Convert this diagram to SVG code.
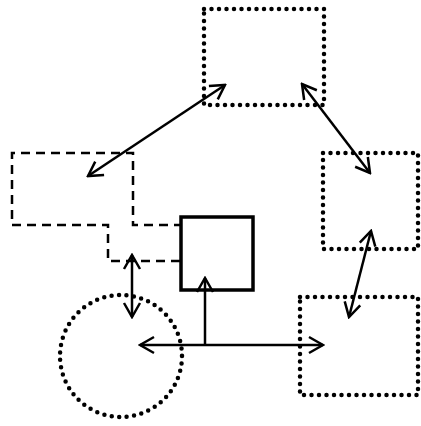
<svg xmlns="http://www.w3.org/2000/svg" width="421" height="426" viewBox="0 0 421 426">
<style>
.dot{fill:none;stroke:#000;stroke-width:4.5;stroke-linecap:round;stroke-dasharray:0 7.5}
.dash{fill:none;stroke:#000;stroke-width:2.5;stroke-dasharray:9 6}
.solid{fill:none;stroke:#000;stroke-width:3.5}
.con{fill:none;stroke:#000;stroke-width:2.5;marker-end:url(#ah)}
.dbl{marker-start:url(#ah)}
</style>
<defs>
<marker id="ah" markerUnits="userSpaceOnUse" viewBox="-16 -10 18 20" refX="0" refY="0" markerWidth="18" markerHeight="20" orient="auto-start-reverse">
<path d="M-14,-8 L0,0 L-14,8" fill="none" stroke="#000" stroke-width="2.5" stroke-linejoin="miter"/>
</marker>
</defs>
<rect width="421" height="426" fill="#fff"/>
<g id="n_top"><rect class="dot" x="204" y="9" width="120" height="96"/></g>
<g id="n_right"><rect class="dot" x="323" y="153" width="95" height="96"/></g>
<g id="n_bottomright"><rect class="dot" x="300" y="297" width="118" height="98"/></g>
<g id="n_dashed"><path class="dash" d="M180,261 L108,261 L108,225 L12,225 L12,153 L133,153 L133,225 L180,225"/></g>
<g id="n_solid"><rect class="solid" x="181" y="217" width="72" height="73"/></g>
<g id="n_circle"><circle class="dot" cx="121" cy="356" r="61"/></g>
<g id="connectors">
<line class="con dbl" x1="88" y1="176" x2="225" y2="85"/>
<line class="con dbl" x1="302" y1="84" x2="370" y2="173"/>
<line class="con dbl" x1="371" y1="231" x2="349" y2="317"/>
<line class="con dbl" x1="132" y1="255" x2="132" y2="317"/>
<line class="con dbl" x1="140" y1="345" x2="323" y2="345"/>
<line class="con" x1="205" y1="345" x2="205" y2="278"/>
</g>
</svg>
